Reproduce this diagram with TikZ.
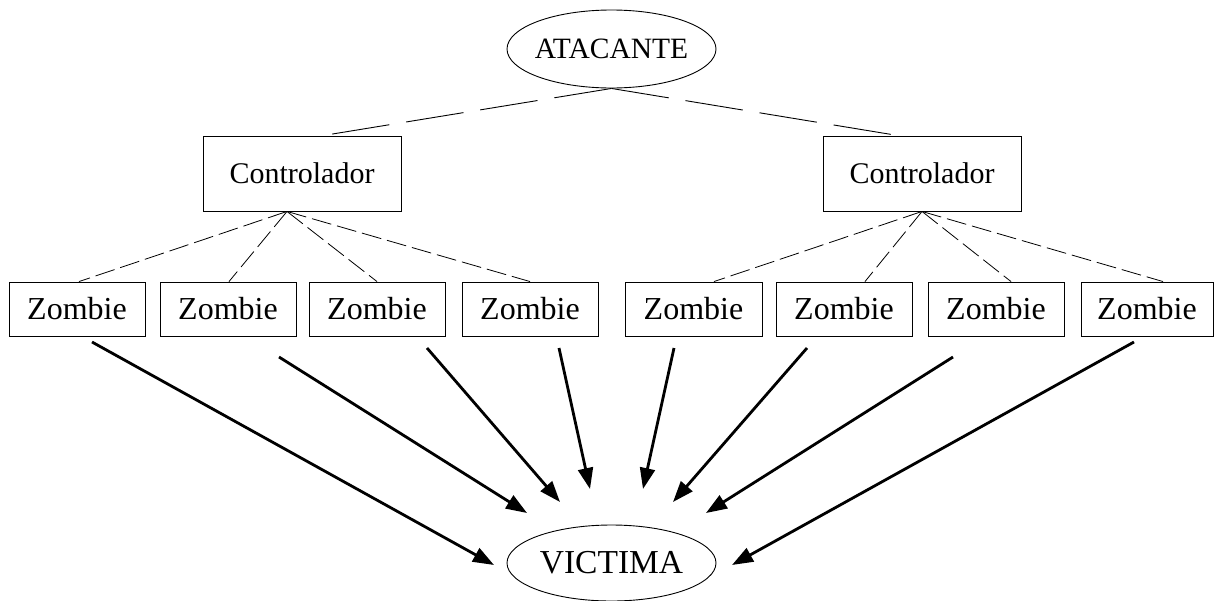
\documentclass[tikz,border=0pt]{standalone}
\usepackage{fontspec}
\setmainfont{Liberation Serif}
\usetikzlibrary{shapes.geometric,arrows.meta,calc}
\tikzset{
  ovalnode/.style={ellipse,draw,line width=0.9pt,inner sep=0pt,minimum width=209pt,minimum height=78pt},
  ctrlbox/.style={rectangle,draw,line width=0.9pt,inner sep=0pt,minimum width=198pt,minimum height=75pt,font=\fontsize{30}{36}\selectfont},
  zbox/.style={rectangle,draw,line width=0.9pt,inner sep=0pt,minimum width=136pt,minimum height=54pt,font=\fontsize{32}{38}\selectfont},
  toplink/.style={line width=0.9pt,dash pattern=on 58pt off 17pt},
  sublink/.style={line width=0.8pt,dash pattern=on 20pt off 6pt},
  attack/.style={line width=2.8pt,-{Triangle[length=21pt,width=15pt]}}
}
\begin{document}
\begin{tikzpicture}[x=1pt,y=-1pt]
\useasboundingbox (0,0) rectangle (1215,600);
\node[ovalnode,font=\fontsize{29.5}{35}\selectfont] (a) at (611.5,49) {\makebox[0pt]{ATACANTE}};
\node[ovalnode,font=\fontsize{33.5}{40}\selectfont,minimum height=76pt] (v) at (611.5,563) {\makebox[0pt]{VICTIMA}};
\node[ctrlbox] (c1) at (302,173.5) {Controlador};
\node[ctrlbox] (c2) at (922,173.5) {Controlador};
\node[zbox] (z1) at (77,309) {Zombie};
\node[zbox] (z2) at (228,309) {Zombie};
\node[zbox] (z3) at (377,309) {Zombie};
\node[zbox] (z4) at (530,309) {Zombie};
\node[zbox,minimum width=137pt] (z5) at (693.5,309) {Zombie};
\node[zbox] (z6) at (844,309) {Zombie};
\node[zbox] (z7) at (996,309) {Zombie};
\node[zbox,minimum width=132pt] (z8) at (1147,309) {Zombie};
% dashed hierarchy
\draw[toplink] (a.south) -- ($(c1.north)+(21,0)$);
\draw[toplink] (a.south) -- ($(c2.north)+(-24,0)$);
\coordinate (p1) at ($(c1.south)+(-15,0)$);
\coordinate (p2) at (c2.south);
\draw[sublink] (p1) -- ($(z1.north)+(2,0)$);
\draw[sublink] (p1) -- ($(z2.north)+(1,0)$);
\draw[sublink] (p1) -- (z3.north);
\draw[sublink] (p1) -- (z4.north);
\draw[sublink] (p2) -- ($(z5.north)+(20.5,0)$);
\draw[sublink] (p2) -- ($(z6.north)+(21,0)$);
\draw[sublink] (p2) -- ($(z7.north)+(15,0)$);
\draw[sublink] (p2) -- ($(z8.north)+(16,0)$);
% attack arrows
\coordinate (s1) at (92,342);  \coordinate (t1) at (494,565);
\coordinate (s2) at (279,357); \coordinate (t2) at (527,513);
\coordinate (s3) at (427,348); \coordinate (t3) at (560,502);
\coordinate (s4) at (559,348); \coordinate (t4) at (590,489);
\coordinate (s5) at (674,348); \coordinate (t5) at (643,489);
\coordinate (s6) at (807,348); \coordinate (t6) at (673,502);
\coordinate (s7) at (953,357); \coordinate (t7) at (706,513);
\coordinate (s8) at (1134,342); \coordinate (t8) at (732,565);
\foreach \i in {1,...,8} \draw[attack] (s\i) -- (t\i);
\end{tikzpicture}
\end{document}
